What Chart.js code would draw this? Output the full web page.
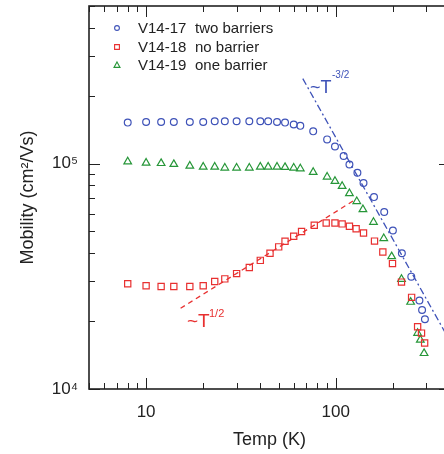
<!DOCTYPE html>
<html>
<head>
<meta charset="utf-8">
<script src="https://cdn.jsdelivr.net/npm/chart.js@4/dist/chart.umd.min.js"></script>
<style>
  html, body { margin: 0; padding: 0; background: #fff; overflow: hidden; }
  canvas { display: block; }
</style>
</head>
<body>
<canvas id="mobChart" width="460" height="454"></canvas>
<script>
// Temperatures (K) and mobilities (cm^2/Vs)
const tempV17 = [8, 10, 12, 14, 17, 20, 23, 26, 30, 35, 40, 44, 49, 54, 60, 65, 76, 90, 99, 110, 118, 130, 140, 159, 180, 200, 223, 250, 276, 285, 295];
const muV17 = [1.52e5, 1.53e5, 1.53e5, 1.53e5, 1.53e5, 1.53e5, 1.54e5, 1.54e5, 1.54e5, 1.54e5, 1.54e5, 1.54e5, 1.53e5, 1.52e5, 1.49e5, 1.47e5,
  1.39e5, 1.28e5, 1.19e5, 1.08e5, 9.9e4, 9.1e4, 8.2e4, 7.1e4, 6.1e4, 5.05e4, 4.0e4, 3.15e4, 2.47e4, 2.24e4, 2.04e4];

const tempV18 = [8, 10, 12, 14, 17, 20, 23, 26, 30, 35, 40, 45, 50, 54, 60, 66, 77, 89, 99, 108, 118, 128, 140, 160, 177, 199, 222, 251, 270, 283, 294];
const muV18 = [2.93e4, 2.87e4, 2.85e4, 2.85e4, 2.85e4, 2.87e4, 3.0e4, 3.08e4, 3.25e4, 3.46e4, 3.72e4, 4.0e4, 4.27e4, 4.52e4, 4.76e4, 5.0e4,
  5.33e4, 5.45e4, 5.45e4, 5.4e4, 5.27e4, 5.14e4, 4.92e4, 4.53e4, 4.05e4, 3.6e4, 2.98e4, 2.55e4, 1.89e4, 1.77e4, 1.6e4];

const tempV19 = [8, 10, 12, 14, 17, 20, 23, 26, 30, 35, 40, 44, 49, 54, 60, 65, 76, 90, 99, 108, 118, 129, 139, 158, 179, 197, 222, 248, 270, 279, 292];
const muV19 = [1.02e5, 1.007e5, 1.003e5, 9.93e4, 9.76e4, 9.66e4, 9.66e4, 9.57e4, 9.57e4, 9.57e4, 9.66e4, 9.66e4, 9.66e4, 9.63e4, 9.57e4, 9.5e4,
  9.16e4, 8.73e4, 8.35e4, 7.94e4, 7.37e4, 6.8e4, 6.26e4, 5.5e4, 4.66e4, 3.87e4, 3.07e4, 2.43e4, 1.77e4, 1.65e4, 1.44e4];

// guide lines ~T^-3/2 and ~T^1/2 (end points)
const fitMinus32T = [67, 400];
const fitMinus32Mu = [2.38e5, 1.63e4];
const fitHalfT = [15.2, 126];
const fitHalfMu = [2.28e4, 6.9e4];

const seriesNames = ['V14-17', 'V14-18', 'V14-19'];
const seriesNotes = ['two barriers', 'no barrier', 'one barrier'];

const xTickValues = [10, 100];
const xTickLabels = ['10', '100'];
const yTickValues = [1e4, 1e5];
const yTickLabels = ['10\u2074', '10\u2075'];

const BLUE = 'rgb(62,82,184)';
const RED = 'rgb(232,48,48)';
const GREEN = 'rgb(38,150,56)';
const INK = '#222';

function pts(xs, ys) {
  return xs.map((v, i) => ({ x: v, y: ys[i] }));
}

function isPow10(v) {
  const l = Math.log10(v);
  return Math.abs(l - Math.round(l)) < 1e-9;
}

// frame, inward ticks, legend and annotations
const decorations = {
  id: 'decorations',
  beforeDraw(chart) {
    const ctx = chart.ctx;
    ctx.save();
    ctx.fillStyle = '#fff';
    ctx.fillRect(0, 0, chart.width, chart.height);
    ctx.restore();
  },
  afterDraw(chart) {
    const { ctx, chartArea: a, scales: { x, y } } = chart;
    ctx.save();
    ctx.strokeStyle = INK;
    ctx.lineWidth = 1;

    // x ticks (top and bottom)
    for (let e = 0; e <= 2; e++) {
      for (let s = 1; s <= 9; s++) {
        const v = s * Math.pow(10, e);
        if (v < x.min || v > x.max) continue;
        const px = Math.round(x.getPixelForValue(v)) + 0.5;
        const len = s === 1 ? 11 : 6;
        ctx.beginPath();
        ctx.moveTo(px, a.bottom); ctx.lineTo(px, a.bottom - len);
        ctx.moveTo(px, a.top); ctx.lineTo(px, a.top + len);
        ctx.stroke();
      }
    }
    // y ticks (left and right)
    for (let e = 4; e <= 5; e++) {
      for (let s = 1; s <= 9; s++) {
        const v = s * Math.pow(10, e);
        if (v < y.min || v > y.max) continue;
        const py = Math.round(y.getPixelForValue(v)) + 0.5;
        const len = s === 1 ? 11 : 6;
        ctx.beginPath();
        ctx.moveTo(a.left, py); ctx.lineTo(a.left + len, py);
        ctx.moveTo(a.right, py); ctx.lineTo(a.right - len, py);
        ctx.stroke();
      }
    }
    ctx.lineWidth = 1.6;
    ctx.strokeRect(a.left, a.top, a.right - a.left, a.bottom - a.top);

    // legend
    const colors = [BLUE, RED, GREEN];
    const rowY = [28, 47, 65];
    ctx.font = '15px "Liberation Sans", Arial, sans-serif';
    ctx.textBaseline = 'middle';
    ctx.textAlign = 'left';
    for (let i = 0; i < 3; i++) {
      const cy = rowY[i], cx = 117;
      ctx.strokeStyle = colors[i];
      ctx.lineWidth = 1.1;
      ctx.beginPath();
      if (i === 0) ctx.arc(cx, cy, 2.4, 0, Math.PI * 2);
      else if (i === 1) ctx.rect(cx - 2.4, cy - 2.4, 4.8, 4.8);
      else { ctx.moveTo(cx, cy - 3); ctx.lineTo(cx + 3, cy + 2.4); ctx.lineTo(cx - 3, cy + 2.4); ctx.closePath(); }
      ctx.stroke();
      ctx.fillStyle = INK;
      ctx.fillText(seriesNames[i], 138, cy + 1);
      ctx.fillText(seriesNotes[i], 195, cy + 1);
    }

    // annotations
    ctx.textBaseline = 'alphabetic';
    ctx.fillStyle = BLUE;
    ctx.font = '18px "Liberation Sans", Arial, sans-serif';
    ctx.fillText('~T', 310, 93);
    ctx.font = '10px "Liberation Sans", Arial, sans-serif';
    ctx.fillText('-3/2', 332, 78);

    ctx.fillStyle = RED;
    ctx.font = '19px "Liberation Sans", Arial, sans-serif';
    ctx.fillText('~T', 187, 327);
    ctx.font = '11px "Liberation Sans", Arial, sans-serif';
    ctx.fillText('1/2', 209, 317);
    ctx.restore();
  }
};

const ctx = document.getElementById('mobChart').getContext('2d');
new Chart(ctx, {
  type: 'scatter',
  data: {
    datasets: [
      {
        label: seriesNames[0], data: pts(tempV17, muV17),
        pointStyle: 'circle', pointRadius: 3.4, pointBorderWidth: 1.2,
        borderColor: BLUE, backgroundColor: 'rgba(0,0,0,0)', order: 1
      },
      {
        label: seriesNames[1], data: pts(tempV18, muV18),
        pointStyle: 'rect', pointRadius: 4.4, pointBorderWidth: 1.2,
        borderColor: RED, backgroundColor: 'rgba(0,0,0,0)', order: 2
      },
      {
        label: seriesNames[2], data: pts(tempV19, muV19),
        pointStyle: 'triangle', pointRadius: 4.4, pointBorderWidth: 1.2,
        borderColor: GREEN, backgroundColor: 'rgba(0,0,0,0)', order: 3
      },
      {
        label: '~T^-3/2', data: pts(fitMinus32T, fitMinus32Mu), showLine: true,
        pointRadius: 0, borderColor: BLUE, borderWidth: 1.3, borderDash: [7, 3, 2, 3], order: 4
      },
      {
        label: '~T^1/2', data: pts(fitHalfT, fitHalfMu), showLine: true,
        pointRadius: 0, borderColor: RED, borderWidth: 1.3, borderDash: [5, 4], order: 5
      }
    ]
  },
  options: {
    responsive: false,
    animation: false,
    devicePixelRatio: 1,
    layout: { padding: { top: 6, right: 10, left: 0, bottom: 0 } },
    plugins: { legend: { display: false }, tooltip: { enabled: false } },
    scales: {
      x: {
        type: 'logarithmic', min: 5, max: 400,
        grid: { display: false, drawTicks: false },
        border: { display: false },
        ticks: {
          autoSkip: false, maxRotation: 0, padding: 13,
          color: INK, font: { size: 17, family: '"Liberation Sans", Arial, sans-serif' },
          callback: (v) => {
            const i = xTickValues.findIndex(t => Math.abs(t - v) < 1e-6);
            return i >= 0 ? xTickLabels[i] : '';
          }
        },
        title: {
          display: true, text: 'Temp (K)', color: INK,
          font: { size: 18, family: '"Liberation Sans", Arial, sans-serif' },
          padding: { top: 0, bottom: 3 }
        },
        afterFit: (s) => { s.height = 65; s.paddingLeft = 0; s.paddingRight = 0; }
      },
      y: {
        type: 'logarithmic', min: 1e4, max: 5e5,
        grid: { display: false, drawTicks: false },
        border: { display: false },
        ticks: {
          autoSkip: false, padding: 11,
          color: INK, font: { size: 17, family: '"Liberation Sans", Arial, sans-serif' },
          callback: (v) => {
            const i = yTickValues.findIndex(t => Math.abs(t - v) < 1e-3);
            return i >= 0 ? yTickLabels[i] : '';
          }
        },
        title: {
          display: true, text: 'Mobility (cm\u00b2/Vs)', color: INK,
          font: { size: 18, family: '"Liberation Sans", Arial, sans-serif' },
          padding: { top: 17, bottom: 0 }
        },
        afterFit: (s) => { s.width = 89; s.paddingTop = 0; s.paddingBottom = 0; }
      }
    }
  },
  plugins: [decorations]
});
</script>
</body>
</html>
